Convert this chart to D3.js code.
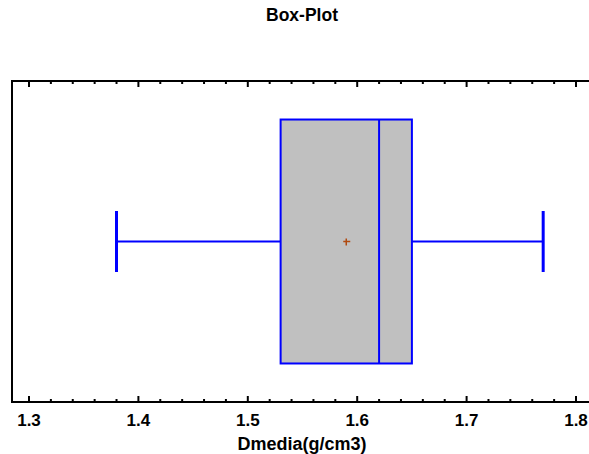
<!DOCTYPE html>
<html>
<head>
<meta charset="utf-8">
<script src="https://cdn.jsdelivr.net/npm/d3@7"></script>
<style>
  html, body { margin: 0; padding: 0; background: #fff; }
  svg { display: block; }
  text { font-family: Arial, "Liberation Sans", sans-serif; font-weight: bold; fill: #000; }
</style>
</head>
<body>
<script>
// Summary statistics for Dmedia (g/cm3)
const variableName = ["Dmedia(g/cm3)"];
const whiskerLow = [1.38];
const quartile1 = [1.53];
const median = [1.62];
const quartile3 = [1.65];
const whiskerHigh = [1.77];
const mean = [1.59];
const tickValues = [1.3, 1.4, 1.5, 1.6, 1.7, 1.8];

const W = 589, H = 454;
const frame = { left: 12, right: 592, top: 81, bottom: 402 };

const svg = d3.select("body").append("svg").attr("width", W).attr("height", H);

const x = d3.scaleLinear().domain([1.3, 1.8]).range([29, 576]);
const y = d3.scaleLinear().domain([0, 1]).range([frame.bottom, frame.top]);

// Title
svg.append("text").attr("x", 302).attr("y", 21).attr("text-anchor", "middle")
  .attr("font-size", 17.5).text("Box-Plot");

// Frame (left, top, bottom)
svg.append("path")
  .attr("d", `M${frame.right},${frame.top}H${frame.left}V${frame.bottom}H${frame.right}`)
  .attr("fill", "none").attr("stroke", "#000").attr("stroke-width", 2);

// Major and minor ticks, pointing inward on top and bottom
const minorTicks = d3.range(1.3, 1.8001, 0.02).filter(v => Math.abs(v * 10 - Math.round(v * 10)) > 1e-6);
const tickG = svg.append("g").attr("stroke", "#000");
tickValues.forEach(v => {
  tickG.append("line").attr("x1", x(v)).attr("x2", x(v)).attr("y1", frame.bottom).attr("y2", frame.bottom - 6).attr("stroke-width", 2);
  tickG.append("line").attr("x1", x(v)).attr("x2", x(v)).attr("y1", frame.top).attr("y2", frame.top + 6).attr("stroke-width", 2);
});
minorTicks.forEach(v => {
  tickG.append("line").attr("x1", x(v)).attr("x2", x(v)).attr("y1", frame.bottom).attr("y2", frame.bottom - 3).attr("stroke-width", 2);
  tickG.append("line").attr("x1", x(v)).attr("x2", x(v)).attr("y1", frame.top).attr("y2", frame.top + 3).attr("stroke-width", 2);
});

// Tick labels
svg.append("g").selectAll("text").data(tickValues).join("text")
  .attr("x", d => x(d)).attr("y", 426).attr("text-anchor", "middle")
  .attr("font-size", 17).text(d => d3.format(".1f")(d));

// Axis title
svg.append("text").attr("x", 302).attr("y", 450).attr("text-anchor", "middle")
  .attr("font-size", 18).text(variableName[0]);

// Box plot geometry in relative vertical units
const yc = y(0.5);
const boxTop = y(0.88), boxBot = y(0.12);
const capTop = y(0.595), capBot = y(0.405);
const blue = "#0000ff";
const g = svg.append("g");

// Whiskers
g.append("line").attr("x1", x(whiskerLow[0])).attr("x2", x(quartile1[0])).attr("y1", yc).attr("y2", yc)
  .attr("stroke", blue).attr("stroke-width", 2);
g.append("line").attr("x1", x(quartile3[0])).attr("x2", x(whiskerHigh[0])).attr("y1", yc).attr("y2", yc)
  .attr("stroke", blue).attr("stroke-width", 2);
[whiskerLow[0], whiskerHigh[0]].forEach(v => {
  g.append("line").attr("x1", x(v)).attr("x2", x(v)).attr("y1", capTop).attr("y2", capBot)
    .attr("stroke", blue).attr("stroke-width", 3);
});

// Box
g.append("rect").attr("x", x(quartile1[0])).attr("y", boxTop)
  .attr("width", x(quartile3[0]) - x(quartile1[0])).attr("height", boxBot - boxTop)
  .attr("fill", "#c0c0c0").attr("stroke", blue).attr("stroke-width", 2);

// Median
g.append("line").attr("x1", x(median[0])).attr("x2", x(median[0])).attr("y1", boxTop).attr("y2", boxBot)
  .attr("stroke", blue).attr("stroke-width", 2);

// Mean marker
const mx = x(mean[0]), my = yc;
g.append("path").attr("d", `M${mx - 3},${my}H${mx + 4}M${mx},${my - 3}V${my + 4}`)
  .attr("stroke", "#b04a10").attr("stroke-width", 1.5).attr("fill", "none");
</script>
</body>
</html>
